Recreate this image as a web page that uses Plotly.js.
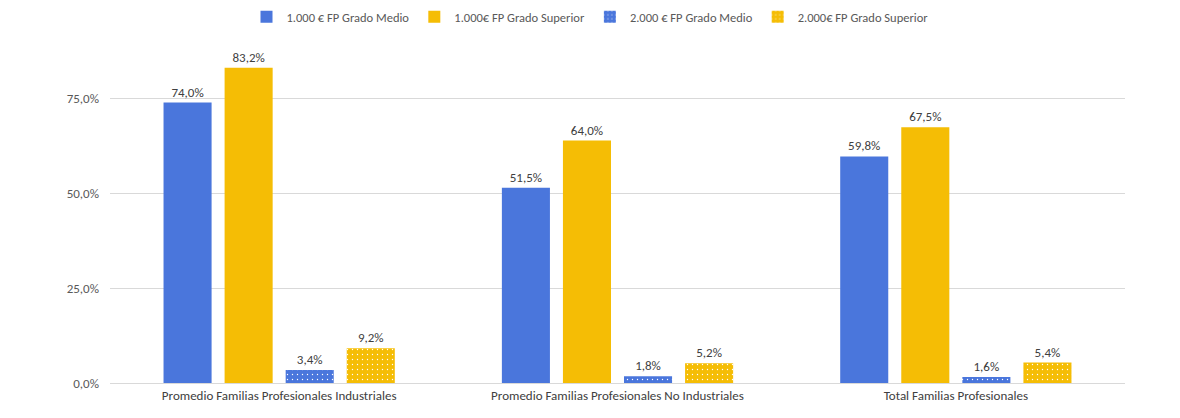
<!DOCTYPE html>
<html>
<head>
<meta charset="utf-8">
<script src="https://cdn.plot.ly/plotly-3.0.1.min.js"></script>
<style>
  html, body { margin: 0; padding: 0; background: #fff; }
  #chart { width: 1180px; height: 418px; }
</style>
</head>
<body>
<div id="chart"></div>
<script>
// ------------------------------------------------------------------------------
// DATA

const categories = [
    'Promedio Familias Profesionales Industriales',
    'Promedio Familias Profesionales No Industriales',
    'Total Familias Profesionales'
];
const seriesNames = [
    '1.000 € FP Grado Medio',
    '1.000€ FP Grado Superior',
    '2.000 € FP Grado Medio',
    '2.000€ FP Grado Superior'
];
const medio1000    = [0.740, 0.515, 0.598];
const superior1000 = [0.832, 0.640, 0.675];
const medio2000    = [0.034, 0.018, 0.016];
const superior2000 = [0.092, 0.052, 0.054];

// ------------------------------------------------------------------------------
// STYLE

const font_family = 'Carlito, "Liberation Sans", Arial, sans-serif';
const blue   = '#4a76dc';
const yellow = '#f5bd05';

function makeTrace(name, values, color, dotted) {
    const marker = { color: color, line: { width: 0 } };
    if (dotted) {
        marker.pattern = {
            shape: '.',
            bgcolor: color,
            fgcolor: '#ffffff',
            fgopacity: 1,
            size: 5,
            solidity: 0.06,
            fillmode: 'replace'
        };
    }
    return {
        type: 'bar',
        name: name,
        x: categories,
        y: values,
        marker: marker,
        texttemplate: '%{y:.1%}',
        textposition: 'outside',
        cliponaxis: false,
        textfont: { family: font_family, size: 13, color: '#404040' },
        hoverinfo: 'none'
    };
}

const traces = [
    makeTrace(seriesNames[0], medio1000, blue, false),
    makeTrace(seriesNames[1], superior1000, yellow, false),
    makeTrace(seriesNames[2], medio2000, blue, true),
    makeTrace(seriesNames[3], superior2000, yellow, true)
];

const layout = {
    width: 1180,
    height: 418,
    separators: ',.',
    paper_bgcolor: '#ffffff',
    plot_bgcolor: '#ffffff',
    font: { family: font_family, size: 13, color: '#595959' },
    barmode: 'group',
    bargap: 0.278,
    bargroupgap: 0.213,
    showlegend: true,
    legend: {
        orientation: 'h',
        x: 0.5,
        xanchor: 'center',
        xref: 'container',
        y: 0.959,
        yanchor: 'middle',
        yref: 'container',
        font: { family: font_family, size: 12.5, color: '#595959' },
        itemwidth: 30,
        traceorder: 'normal'
    },
    margin: { l: 110, r: 55, t: 42, b: 35, pad: 0 },
    xaxis: {
        showgrid: false,
        zeroline: false,
        showline: true,
        linecolor: '#d9d9d9',
        linewidth: 1,
        ticks: '',
        tickfont: { family: font_family, size: 13, color: '#404040' }
    },
    yaxis: {
        range: [0, 0.9],
        tickvals: [0, 0.25, 0.5, 0.75],
        tickformat: '.1%',
        showgrid: true,
        gridcolor: '#d9d9d9',
        gridwidth: 1,
        zeroline: false,
        showline: false,
        ticks: '',
        ticklabelstandoff: 10,
        tickfont: { family: font_family, size: 13, color: '#595959' }
    }
};

Plotly.newPlot('chart', traces, layout, { displayModeBar: false, responsive: false });
</script>
</body>
</html>
